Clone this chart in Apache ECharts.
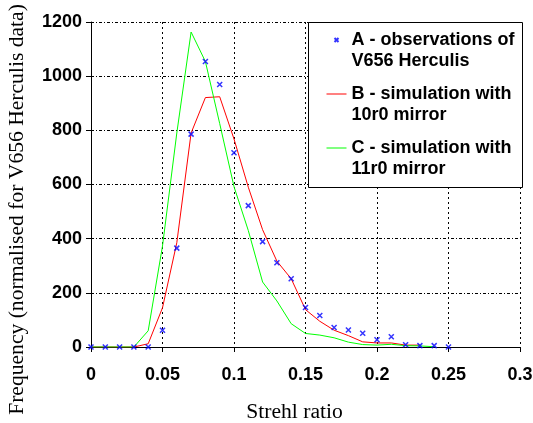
<!DOCTYPE html>
<html>
<head>
<meta charset="utf-8">
<script src="https://cdn.jsdelivr.net/npm/echarts@6/dist/echarts.min.js"></script>
<style>
html,body{margin:0;padding:0;background:#fff;}
#chart{width:533px;height:423px;}
</style>
</head>
<body>
<div id="chart"></div>
<script>
// Strehl ratio bins
const strehl = [0,0.01,0.02,0.03,0.04,0.05,0.06,0.07,0.08,0.09,0.10,0.11,0.12,0.13,0.14,0.15,0.16,0.17,0.18,0.19,0.20,0.21,0.22,0.23,0.24,0.25];
// A - observations of V656 Herculis
const obsA = [0,0,0,0,0,62,365,786,1054,969,717,522,389,311,252,146,116,72,63,51,27,38,8,5,5,0];
// B - simulation with 10r0 mirror
const simB = [0,0,0,0,12,145,385,790,921,924,768,590,433,317,252,138,95,62,42,19,15,15,7,7];
// C - simulation with 11r0 mirror
const simC = [0,0,0,0,60,373,790,1163,1054,825,592,430,240,170,86,50,44,34,18,9,7,10,5,4,1];
const xTicks = ['0','0.05','0.1','0.15','0.2','0.25','0.3'];
const yTicks = ['0','200','400','600','800','1000','1200'];

const nameA = 'A - observations of\nV656 Herculis';
const nameB = 'B - simulation with\n10r0 mirror';
const nameC = 'C - simulation with\n11r0 mirror';

function pairs(arr){ return arr.map((v,i)=>[strehl[i], v]); }

const chart = echarts.init(document.getElementById('chart'), null, {renderer:'canvas'});
const tickFont = {fontFamily:'Liberation Sans, Arial, sans-serif', fontSize:18, fontWeight:'bold', color:'#000'};
const titleFont = {fontFamily:'Liberation Serif, Times New Roman, serif', fontSize:21.6, color:'#000'};
const lineIcon = 'path://M0,0M20,14M0,6.5L20,6.5L20,7.5L0,7.5Z';

chart.setOption({
  animation:false,
  backgroundColor:'#fff',
  grid:{left:91, right:13, top:22, bottom:76, containLabel:false, outerBoundsMode:'none'},
  xAxis:{
    type:'value', min:0, max:0.3, interval:0.05,
    name:'Strehl ratio', nameLocation:'middle', nameGap:54,
    nameTextStyle:Object.assign({}, titleFont, {padding:[0,22,0,0]}),
    axisLine:{show:true, onZero:false, lineStyle:{color:'#000', width:1}},
    axisTick:{show:true, inside:false, length:5, lineStyle:{color:'#000'}},
    axisLabel:Object.assign({}, tickFont, {margin:19, formatter:(v,i)=>xTicks[i] !== undefined ? xTicks[i] : String(v)}),
    splitLine:{show:true, lineStyle:{color:'#000', width:1, type:[2,3]}}
  },
  yAxis:{
    type:'value', min:0, max:1200, interval:200,
    name:'Frequency (normalised for V656 Herculis data)', nameLocation:'middle', nameGap:63,
    nameTextStyle:Object.assign({}, titleFont, {padding:[0,50,0,0]}),
    axisLine:{show:true, lineStyle:{color:'#000', width:1}},
    axisTick:{show:true, inside:false, length:5, lineStyle:{color:'#000'}},
    axisLabel:Object.assign({}, tickFont, {margin:9, formatter:(v,i)=>yTicks[i] !== undefined ? yTicks[i] : String(v)}),
    splitLine:{show:true, lineStyle:{color:'#000', width:1, type:[3,2,1,2]}}
  },
  graphic:[{
    type:'rect', left:308, top:22, z:3,
    shape:{width:214, height:165},
    style:{fill:'#fff', stroke:'#000', lineWidth:1}
  }],
  legend:{
    orient:'vertical', left:324, top:8.5, padding:0, itemGap:-9,
    itemWidth:20, itemHeight:14,
    formatter:(n)=>'\n' + n,
    textStyle:{fontFamily:'Liberation Sans, Arial, sans-serif', fontSize:18, fontWeight:'bold', color:'#000', lineHeight:21},
    data:[
      {name:nameA, icon:'path://M0,0M20,14M8,5L12,9M12,5L8,9'},
      {name:nameB, icon:lineIcon, itemStyle:{color:'#ff0000', borderWidth:0}},
      {name:nameC, icon:lineIcon, itemStyle:{color:'#00ff00', borderWidth:0}}
    ],
    z:5
  },
  series:[
    {
      name:nameB, type:'line', data:pairs(simB), symbol:'none', z:2,
      lineStyle:{color:'#ff0000', width:1}, itemStyle:{color:'#ff0000'}
    },
    {
      name:nameC, type:'line', data:pairs(simC), symbol:'none', z:3,
      lineStyle:{color:'#00ff00', width:1}, itemStyle:{color:'#00ff00'}
    },
    {
      name:nameA, type:'scatter', data:pairs(obsA), z:4,
      symbol:'path://M0,0L10,10M10,0L0,10', symbolSize:5,
      itemStyle:{color:'none', borderColor:'#0000ff', borderWidth:1.5}
    }
  ]
});
</script>
</body>
</html>
